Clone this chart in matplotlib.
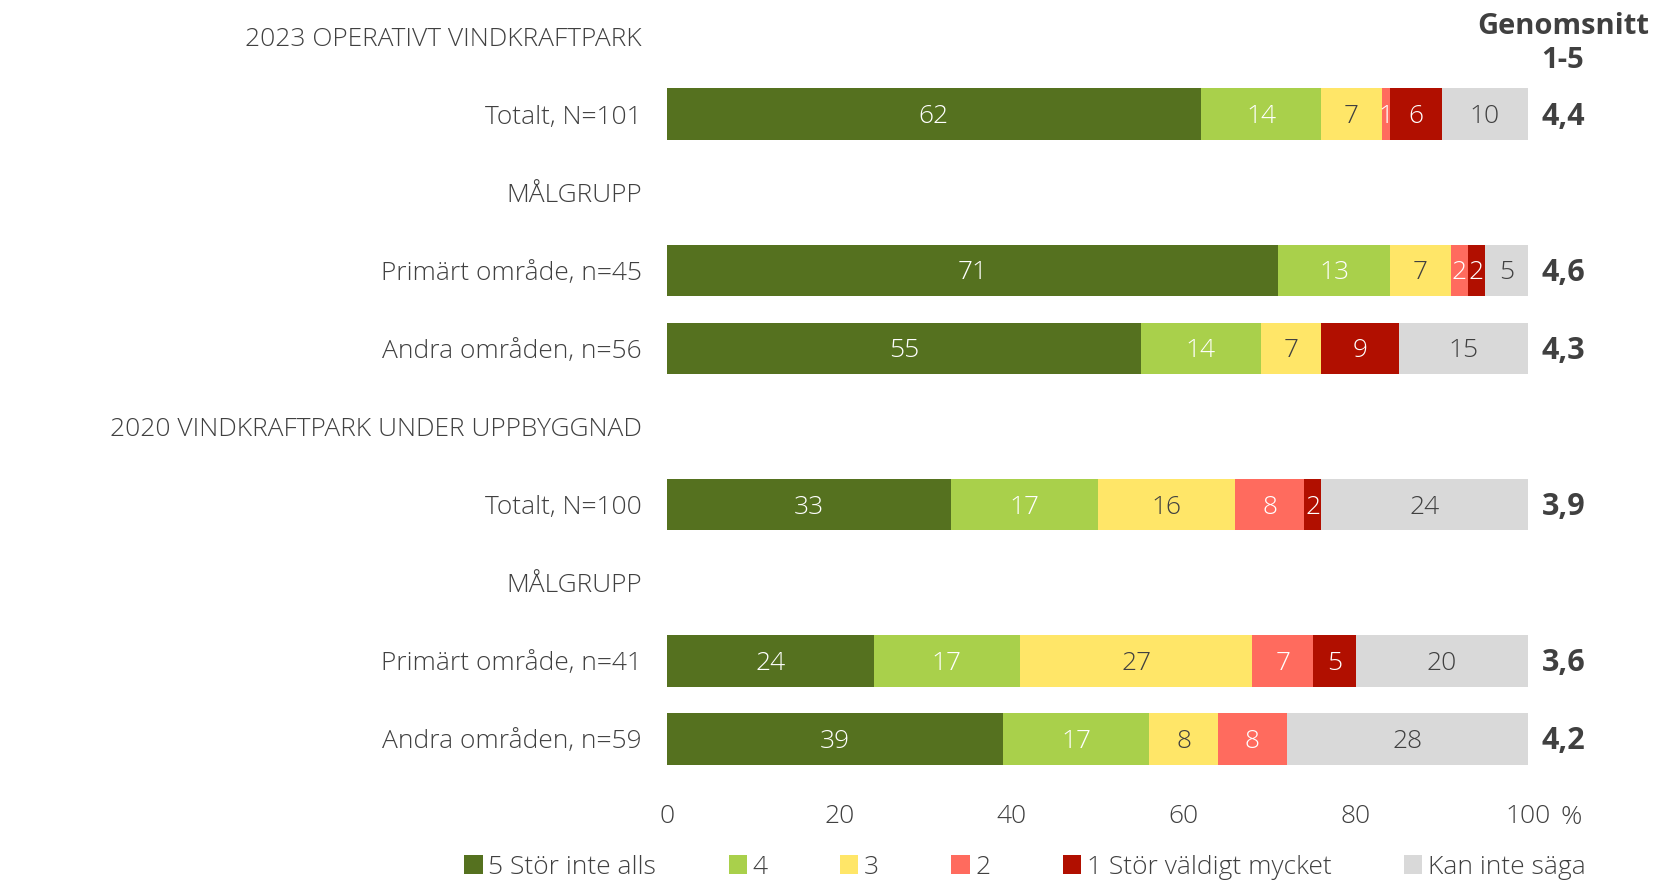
import matplotlib
matplotlib.use('Agg')
import matplotlib.pyplot as plt
import numpy as np

plt.rcParams['font.family'] = ['Open Sans', 'DejaVu Sans']

# rows from top to bottom; headers have no bar
row_labels = ['2023 OPERATIVT VINDKRAFTPARK', 'Totalt, N=101', 'MÅLGRUPP',
              'Primärt område, n=45', 'Andra områden, n=56',
              '2020 VINDKRAFTPARK UNDER UPPBYGGNAD', 'Totalt, N=100', 'MÅLGRUPP',
              'Primärt område, n=41', 'Andra områden, n=59']
bar_rows = [1, 3, 4, 6, 8, 9]

series_names = ['5 Stör inte alls', '4', '3', '2', '1 Stör väldigt mycket', 'Kan inte säga']
stor_5 = [62, 71, 55, 33, 24, 39]
stor_4 = [14, 13, 14, 17, 17, 17]
stor_3 = [7, 7, 7, 16, 27, 8]
stor_2 = [1, 2, 0, 8, 7, 8]
stor_1 = [6, 2, 9, 2, 5, 0]
kan_inte = [10, 5, 15, 24, 20, 28]
averages = ['4,4', '4,6', '4,3', '3,9', '3,6', '4,2']

colors = ['#55711f', '#a9d04b', '#ffe668', '#ff6b5e', '#b10f00', '#d9d9d9']
txt_colors = ['white', 'white', '#404040', 'white', 'white', '#404040']
grey = '#404040'
fs = 19
dy = 0.03  # small nudge so numbers sit in the middle of the bars

fig = plt.figure(figsize=(16.53, 8.82), dpi=100)
ax = fig.add_axes([0.4035, 0.1179, 0.5209, 0.881])

values = [stor_5, stor_4, stor_3, stor_2, stor_1, kan_inte]
left = np.zeros(len(bar_rows))
handles = []
for k, vals in enumerate(values):
    vals = np.array(vals, dtype=float)
    b = ax.barh(bar_rows, vals, left=left, height=0.66, color=colors[k], linewidth=0)
    handles.append(b)
    for y, l, v in zip(bar_rows, left, vals):
        if v > 0:
            ax.text(l + v / 2, y + dy, '%d' % v, ha='center', va='center',
                    fontsize=fs, fontweight='light', color=txt_colors[k])
    left = left + vals

ax.set_xlim(0, 100)
ax.set_ylim(9.5, -0.45)
ax.set_yticks(range(len(row_labels)))
ax.set_yticklabels(row_labels, fontsize=fs, fontweight='light', color=grey)
ax.set_xticks([0, 20, 40, 60, 80, 100])
ax.set_xticklabels(['0', '20', '40', '60', '80', '100'], fontsize=fs,
                   fontweight='light', color=grey)
ax.tick_params(length=0)
ax.tick_params(axis='x', pad=18.5)
ax.tick_params(axis='y', pad=18)
for s in ax.spines.values():
    s.set_visible(False)
ax.text(1.05, -0.035, '%', transform=ax.transAxes, fontsize=fs, fontweight='light',
        color=grey, ha='center', va='top')

# averages column
for y, a in zip(bar_rows, averages):
    ax.text(1.016, y + dy, a, transform=ax.get_yaxis_transform(), fontsize=22,
            fontweight='bold', color=grey, ha='left', va='center')
fig.text(1563 / 1653, 1 - 26 / 882, 'Genomsnitt', fontsize=21, fontweight='bold',
         color=grey, ha='center', va='center')
fig.text(1563 / 1653, 1 - 60 / 882, '1-5', fontsize=21, fontweight='bold',
         color=grey, ha='center', va='center')

leg = fig.legend(handles, series_names, loc='center', bbox_to_anchor=(0.62, 1 - 867 / 882),
                 ncol=6, frameon=False, handlelength=0.7, handleheight=0.7,
                 prop={'size': fs, 'weight': 'light'},
                 handletextpad=0.2, columnspacing=2.75, labelcolor=grey)

fig.savefig('out.png', dpi=100)
